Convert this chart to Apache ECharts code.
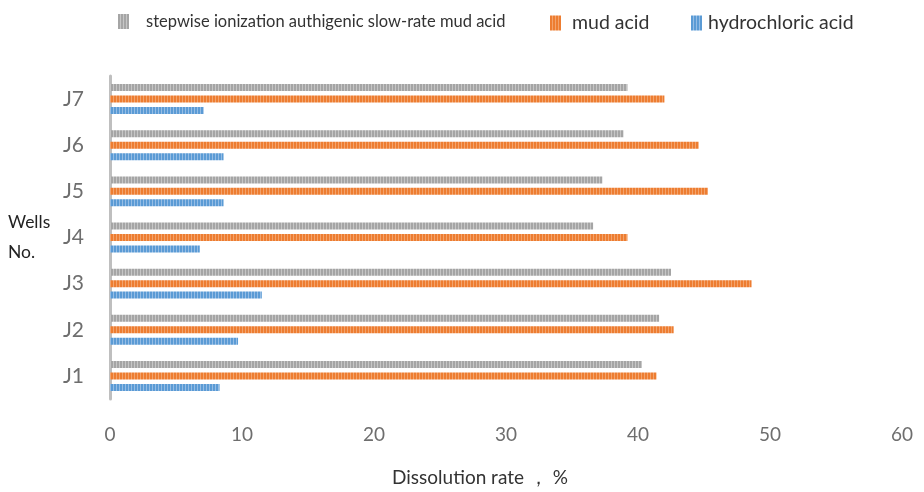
<!DOCTYPE html>
<html>
<head>
<meta charset="utf-8">
<script src="https://cdn.jsdelivr.net/npm/echarts@6/dist/echarts.min.js"></script>
<style>
  html, body { margin: 0; padding: 0; background: #fff; }
  #chart { width: 924px; height: 492px; }
</style>
</head>
<body>
<div id="chart"></div>
<script>
// Wells and dissolution rates (%) for each acid system
const wells = ['J1', 'J2', 'J3', 'J4', 'J5', 'J6', 'J7'];
const seriesNames = ['stepwise ionization authigenic slow-rate mud acid', 'mud acid', 'hydrochloric acid'];
const slowRateMudAcid = [40.3, 41.6, 42.5, 36.6, 37.3, 38.9, 39.2];
const mudAcid = [41.4, 42.7, 48.6, 39.2, 45.3, 44.6, 42.0];
const hydrochloricAcid = [8.3, 9.7, 11.5, 6.8, 8.6, 8.6, 7.1];
const xTicks = [0, 10, 20, 30, 40, 50, 60];

// Vertical-stripe fill, like a hatched office-chart pattern
function stripes(base, light) {
  const c = document.createElement('canvas');
  c.width = 3; c.height = 4;
  const g = c.getContext('2d');
  g.fillStyle = base; g.fillRect(0, 0, 3, 4);
  g.fillStyle = light; g.fillRect(2, 0, 1, 4);
  return { image: c, repeat: 'repeat' };
}
const fills = [
  stripes('#A5A5A5', '#C6C6C6'),
  stripes('#ED7D31', '#F3A36C'),
  stripes('#5B9BD5', '#95BDE5')
];

const chart = echarts.init(document.getElementById('chart'));
const legendBase = {
  top: 8, orient: 'horizontal', itemWidth: 11, itemHeight: 15,
  icon: 'rect', selectedMode: false
};
chart.setOption({
  animation: false,
  legend: [
    Object.assign({}, legendBase, { left: 113, data: [seriesNames[0]],
      textStyle: { fontSize: 16.5, color: '#333', fontFamily: 'Lato', padding: [0, 0, 0, 12] } }),
    Object.assign({}, legendBase, { left: 545, data: [seriesNames[1]],
      textStyle: { fontSize: 19.5, color: '#333', fontFamily: 'Lato', padding: [0, 0, 0, 6] } }),
    Object.assign({}, legendBase, { left: 686, data: [seriesNames[2]],
      textStyle: { fontSize: 19.5, color: '#333', fontFamily: 'Lato', padding: [0, 0, 0, 1] } })
  ],
  grid: { left: 110, right: 22, top: 76, bottom: 90, containLabel: false },
  xAxis: {
    type: 'value', min: 0, max: 60, interval: 10,
    axisLine: { show: false }, axisTick: { show: false }, splitLine: { show: false },
    axisLabel: { fontSize: 19, color: '#6E6E6E', fontFamily: 'Lato', margin: 26,
      formatter: v => (xTicks.indexOf(v) >= 0 ? String(v) : '') },
    name: 'Dissolution rate ， %', nameLocation: 'middle', nameGap: 69,
    nameTextStyle: { fontSize: 19, color: '#333', fontFamily: 'Lato', padding: [0, 52, 0, 0] }
  },
  yAxis: {
    type: 'category', data: wells,
    axisLine: { show: true, lineStyle: { color: '#BFBFBF', width: 3 } },
    axisTick: { show: false },
    axisLabel: { fontSize: 21, color: '#6E6E6E', fontFamily: 'Lato', margin: 26 },
    name: 'Wells\nNo.', nameLocation: 'middle', nameRotate: 0, nameGap: 102,
    nameTextStyle: { fontSize: 17.5, color: '#222', fontFamily: 'Lato', align: 'left', lineHeight: 30 }
  },
  series: [
    { name: seriesNames[0], type: 'bar', data: slowRateMudAcid, barWidth: 7, barGap: '64%', itemStyle: { color: fills[0] } },
    { name: seriesNames[1], type: 'bar', data: mudAcid, barWidth: 7, barGap: '64%', itemStyle: { color: fills[1] } },
    { name: seriesNames[2], type: 'bar', data: hydrochloricAcid, barWidth: 7, barGap: '64%', itemStyle: { color: fills[2] } }
  ]
});
</script>
</body>
</html>
